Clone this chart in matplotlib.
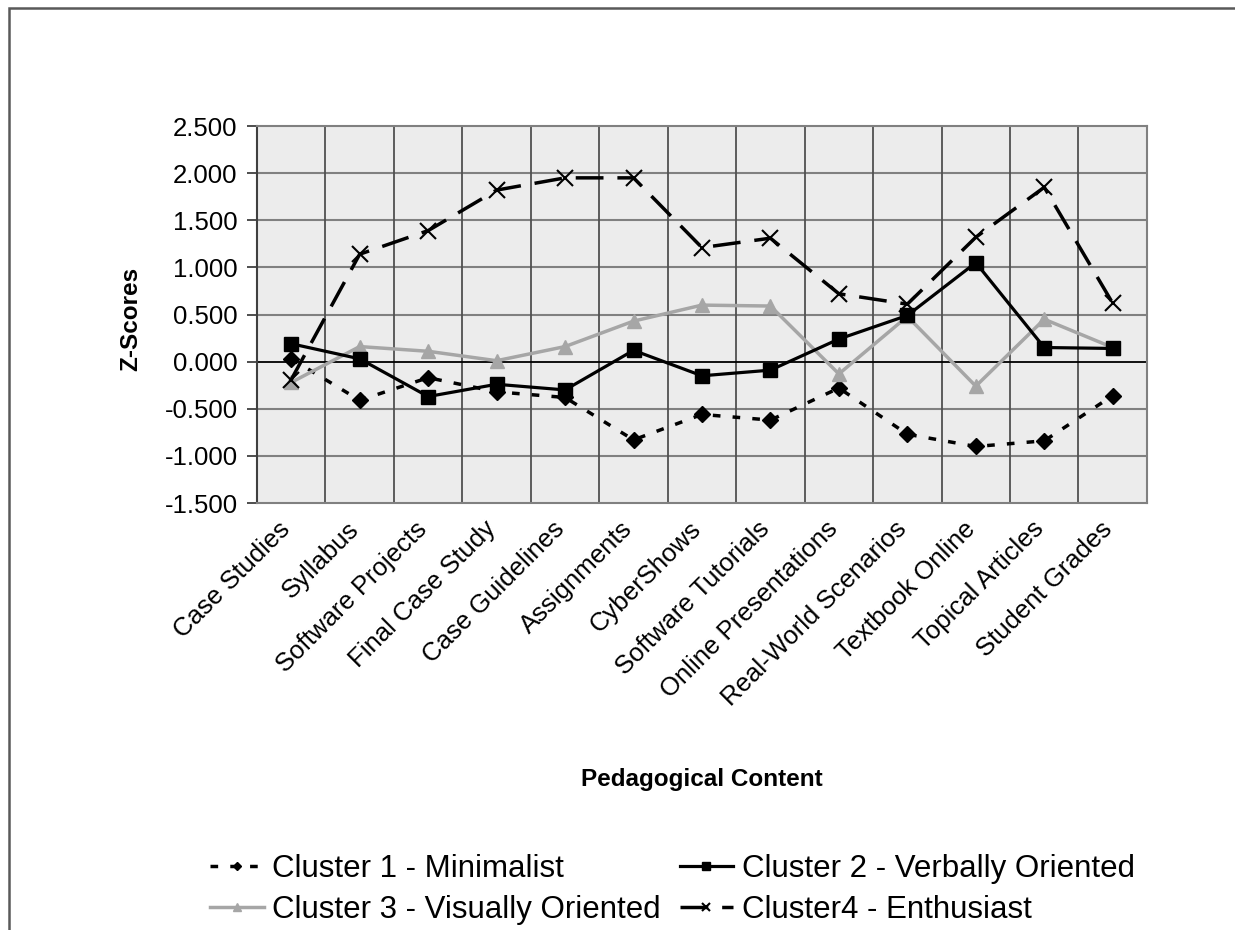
import matplotlib.pyplot as plt
from matplotlib.patches import Rectangle
from matplotlib.transforms import ScaledTranslation

plt.rcParams['font.family'] = ['Liberation Sans', 'DejaVu Sans']

categories = ["Case Studies", "Syllabus", "Software Projects", "Final Case Study",
              "Case Guidelines", "Assignments", "CyberShows", "Software Tutorials",
              "Online Presentations", "Real-World Scenarios", "Textbook Online",
              "Topical Articles", "Student Grades"]

cluster1 = [0.03, -0.41, -0.17, -0.32, -0.38, -0.83, -0.56, -0.62, -0.28, -0.77, -0.90, -0.84, -0.36]
cluster2 = [0.19, 0.03, -0.37, -0.24, -0.30, 0.12, -0.15, -0.09, 0.24, 0.49, 1.05, 0.15, 0.14]
cluster3 = [-0.22, 0.16, 0.11, 0.01, 0.16, 0.43, 0.60, 0.59, -0.13, 0.48, -0.26, 0.45, 0.15]
cluster4 = [-0.19, 1.14, 1.39, 1.82, 1.95, 1.95, 1.21, 1.31, 0.72, 0.61, 1.32, 1.85, 0.62]

labels = ["Cluster 1 - Minimalist", "Cluster 2 - Verbally Oriented",
          "Cluster 3 - Visually Oriented", "Cluster4 - Enthusiast"]

fig = plt.figure(figsize=(12.35, 9.3), dpi=100)
ax = fig.add_axes([0.2081, 0.4591, 0.7206, 0.4054])
ax.set_facecolor('#ececec')

x = list(range(len(categories)))

# grid: horizontal every 0.5, vertical at category boundaries
for yv in [-1.0, -0.5, 0.5, 1.0, 1.5, 2.0]:
    ax.axhline(yv, color='#808080', lw=1.5, zorder=1)
for i in range(1, len(categories)):
    ax.axvline(i - 0.5, color='#505050', lw=1.3, zorder=1)
ax.axhline(0, color='black', lw=1.3, zorder=2)

l1, = ax.plot(x, cluster1, color='black', lw=2.5, linestyle=(0, (2.2, 3.5)),
              marker='D', markersize=8, zorder=3)
l2, = ax.plot(x, cluster2, color='black', lw=2.3, marker='s', markersize=10, zorder=4)
l3, = ax.plot(x, cluster3, color='#a6a6a6', lw=2.5, marker='^', markersize=10, zorder=3)
l4, = ax.plot(x, cluster4, color='black', lw=2.5, linestyle=(0, (8, 4)),
              marker='x', markersize=11, markeredgewidth=1.5, zorder=5)

ax.set_xlim(-0.5, len(categories) - 0.5)
ax.set_ylim(-1.5, 2.5)
ax.set_yticks([-1.5, -1.0, -0.5, 0.0, 0.5, 1.0, 1.5, 2.0, 2.5])
ax.set_yticklabels(['%.3f' % v for v in ax.get_yticks()], fontsize=18.5)
ax.tick_params(axis='y', length=7, width=1.3, color='#404040', pad=7)

ax.set_xticks(x)
ax.set_xticklabels(categories, rotation=45, ha='right', va='top',
                   rotation_mode='anchor', fontsize=18.5)
ax.tick_params(axis='x', length=0, pad=10)
shift = ScaledTranslation(-0.13, 0, fig.dpi_scale_trans)
for lab in ax.get_xticklabels():
    lab.set_transform(lab.get_transform() + shift)

for side in ['top', 'right', 'bottom']:
    ax.spines[side].set_color('#808080')
    ax.spines[side].set_linewidth(1.5)
ax.spines['left'].set_color('#404040')
ax.spines['left'].set_linewidth(1.5)

fig.text(0.1057, 0.657, 'Z-Scores', fontsize=17.5, fontweight='bold',
         rotation=90, ha='center', va='center')
fig.text(0.5684, 0.1613, 'Pedagogical Content', fontsize=17.5, fontweight='bold',
         ha='center', va='center')

fig.legend([l1, l3, l2, l4], [labels[0], labels[2], labels[1], labels[3]],
           ncol=2, frameon=False, fontsize=22.5, loc='center',
           bbox_to_anchor=(0.5445, 0.0435), handlelength=1.7, handletextpad=0.28,
           columnspacing=0.6, labelspacing=0.36, markerscale=0.55, borderpad=0)

# outer chart border (cropped at right and bottom)
fig.patches.append(Rectangle((9 / 1235, -0.1), 1.2, 1 - 8 / 930 + 0.1,
                             transform=fig.transFigure, fill=False,
                             edgecolor='#595959', lw=1.8))

fig.savefig('out.png', dpi=100)
